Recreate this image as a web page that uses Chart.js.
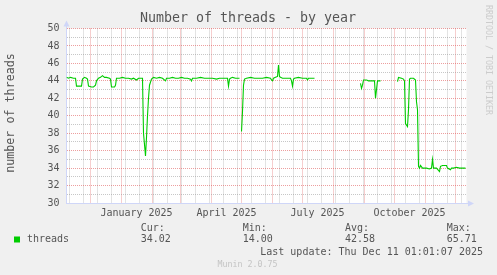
<!DOCTYPE html>
<html>
<head>
<meta charset="utf-8">
<script src="https://cdn.jsdelivr.net/npm/chart.js@4.4.1/dist/chart.umd.min.js"></script>
<style>
  html, body { margin: 0; padding: 0; background: #f0f0f0; }
  #wrap { width: 497px; height: 275px; }
</style>
</head>
<body>
<div id="wrap"><canvas id="threads-year" width="497" height="275"></canvas></div>
<script>
// munin threads plugin, "by year" view. x = days since startDate, null = no data
const startDate = '2024-11-07';
const spanDays = 400;

const days = [
  0, 2, 4, 7, 9, 10, 15, 16, 18, 20, 21, 22, 25, 27, 29, 30, 32, 34, 36, 38,
  40, 43, 44, 45, 48, 49, 50, 53, 56, 59, 62, 65, 67, 70, 72, 75, 76, 77, 79, 80,
  81, 82, 83, 85, 87, 90, 93, 96, 99, 100, 103, 106, 109, 112, 115, 118, 121, 124, 125, 126,
  130, 134, 138, 142, 146, 150, 153, 156, 159, 161, 162, 163, 164, 166, 169, 173, 174,
  175, 176, 177, 178, 180, 184, 188, 192, 196, 200, 204, 205, 206, 207, 209, 211, 212, 213,
  214, 216, 220, 224, 225, 226, 227, 228, 232, 236, 240, 241, 242, 245, 248, 249,
  294, 295, 296, 297, 300, 302, 305, 308, 309, 311, 313, 314, 315,
  331, 332, 335, 337, 338, 339, 341, 342, 343, 344, 347, 349, 350, 351, 352, 353, 354, 356,
  360, 363, 365, 366, 367, 370, 373, 374, 376, 380, 381, 384, 385, 387, 390, 393, 396, 399
];
const threads = [
  44.4, 44.3, 44.4, 44.3, 44.3, 43.4, 43.4, 44.2, 44.4, 44.3, 44.2, 43.4, 43.3, 43.3, 43.5, 44.0, 44.3, 44.4, 44.6, 44.4,
  44.4, 44.3, 44.2, 43.3, 43.3, 43.5, 44.3, 44.3, 44.4, 44.3, 44.3, 44.2, 44.3, 44.1, 44.3, 44.3, 44.3, 38.0, 35.4, 37.5,
  40.0, 42.0, 43.5, 44.2, 44.4, 44.3, 44.4, 44.3, 44.0, 44.3, 44.3, 44.4, 44.3, 44.3, 44.4, 44.3, 44.3, 44.2, 44.0, 44.3,
  44.3, 44.4, 44.3, 44.3, 44.3, 44.2, 44.3, 44.3, 44.3, 44.3, 43.4, 44.2, 44.3, 44.4, 44.3, 44.3, null,
  38.2, 40.5, 43.5, 44.2, 44.3, 44.4, 44.3, 44.3, 44.3, 44.4, 44.3, 44.1, 44.0, 44.3, 44.4, 44.5, 45.8, 44.5,
  44.4, 44.3, 44.3, 44.3, 44.0, 43.4, 44.2, 44.3, 44.4, 44.3, 44.3, 44.1, 44.3, 44.3, 44.3, null,
  43.7, 43.15, 43.5, 44.1, 44.1, 44.0, 44.0, 44.0, 42.0, 44.0, 44.0, 44.0, null,
  43.9, 44.4, 44.3, 44.2, 44.0, 39.1, 38.75, 40.7, 44.2, 44.3, 44.3, 44.1, 41.6, 40.7, 34.2, 34.0, 34.3, 34.0,
  34.0, 33.9, 34.0, 35.0, 34.0, 34.0, 33.6, 34.2, 34.3, 34.3, 34.0, 33.8, 34.0, 34.0, 34.1, 34.0, 34.0, 34.0
];

const labelMonths = ['2025-01', '2025-04', '2025-07', '2025-10'];
const xLabels = ['January 2025', 'April 2025', 'July 2025', 'October 2025'];

const statNames = ['Cur:', 'Min:', 'Avg:', 'Max:'];
const statValues = ['34.02', '14.00', '42.58', '65.71'];

const MONO = '"DejaVu Sans Mono", monospace';
const TXT = '#555555';
const MAJOR = 'rgba(222, 79, 79, 0.55)';
const MINOR = 'rgba(143, 143, 143, 0.5)';
const AXIS = '#cfd6f8';
const GREEN = '#00cc00';

const DAY = 86400000;
const t0 = Date.parse(startDate + 'T00:00:00Z');
const dayOf = s => (Date.parse(s + 'T00:00:00Z') - t0) / DAY;

function buildXTicks() {
  let out = [];
  let tEnd = t0 + spanDays * DAY;
  // minor: every second sunday
  let t = t0 + 3 * DAY;
  while (new Date(t).getUTCDay() !== 0) t += DAY;
  for (; t <= tEnd; t += 14 * DAY) out.push({ value: (t - t0) / DAY, kind: 'minor' });
  // major: first of month
  let y = 2024, m = 11;
  while (Date.UTC(y, m, 1) <= tEnd) {
    out.push({ value: (Date.UTC(y, m, 1) - t0) / DAY, kind: 'major' });
    m++;
    if (m > 11) { m = 0; y++; }
  }
  // labels sit half a month after the month start
  labelMonths.forEach((s, i) => out.push({ value: dayOf(s + '-01') + 15, kind: 'label', text: xLabels[i] }));
  return out;
}

const points = days.map((d, i) => ({ x: d, y: threads[i] }));

const muninFrame = {
  id: 'muninFrame',
  beforeDraw(chart) {
    const { ctx, chartArea: a } = chart;
    ctx.save();
    ctx.fillStyle = '#ffffff';
    ctx.fillRect(a.left, a.top, a.right - a.left, a.bottom - a.top);
    ctx.restore();
  },
  afterDraw(chart) {
    const { ctx, chartArea: a } = chart;
    ctx.save();
    // axis arrows
    ctx.fillStyle = AXIS;
    ctx.strokeStyle = AXIS;
    ctx.lineWidth = 1;
    ctx.beginPath();
    ctx.moveTo(66.5, a.top);
    ctx.lineTo(66.5, 24);
    ctx.stroke();
    ctx.beginPath();
    ctx.moveTo(63.5, 26.5);
    ctx.lineTo(69.5, 26.5);
    ctx.lineTo(66.5, 20.5);
    ctx.closePath();
    ctx.fill();
    ctx.beginPath();
    ctx.moveTo(a.right, 203.5);
    ctx.lineTo(470, 203.5);
    ctx.stroke();
    ctx.beginPath();
    ctx.moveTo(468, 200.5);
    ctx.lineTo(468, 206.5);
    ctx.lineTo(474, 203.5);
    ctx.closePath();
    ctx.fill();

    ctx.fillStyle = TXT;
    ctx.textBaseline = 'middle';
    // title
    ctx.font = '13.3px ' + MONO;
    ctx.textAlign = 'center';
    ctx.fillText('Number of threads - by year', 248, 19);
    // vertical axis title
    ctx.save();
    ctx.translate(11, 113);
    ctx.rotate(-Math.PI / 2);
    ctx.font = '11.7px ' + MONO;
    ctx.fillText('number of threads', 0, 0);
    ctx.restore();
    // watermark
    ctx.save();
    ctx.translate(488, 5);
    ctx.rotate(Math.PI / 2);
    ctx.font = '8.3px ' + MONO;
    ctx.fillStyle = '#cccccc';
    ctx.textAlign = 'left';
    ctx.fillText('RRDTOOL / TOBI OETIKER', 0, 0);
    ctx.restore();

    // legend
    ctx.font = '10px ' + MONO;
    ctx.textAlign = 'left';
    ctx.fillStyle = GREEN;
    ctx.fillRect(14, 236.5, 6, 6);
    ctx.fillStyle = TXT;
    ctx.fillText('threads', 27, 239.5);
    const statX = [140.7, 242.7, 345, 446.7];
    statNames.forEach((n, i) => {
      ctx.fillText(n, statX[i], 228);
      ctx.fillText(statValues[i], statX[i], 239.5);
    });
    ctx.textAlign = 'right';
    ctx.fillText('Last update: Thu Dec 11 01:01:07 2025', 483, 252);
    ctx.textAlign = 'center';
    ctx.font = '8.3px ' + MONO;
    ctx.fillStyle = '#c4c4c4';
    ctx.fillText('Munin 2.0.75', 247.5, 265);
    ctx.restore();
  }
};

new Chart(document.getElementById('threads-year'), {
  type: 'line',
  data: {
    datasets: [{
      label: 'threads',
      data: points,
      borderColor: GREEN,
      borderWidth: 1.1,
      pointRadius: 0,
      tension: 0,
      spanGaps: false,
      fill: false
    }]
  },
  options: {
    responsive: false,
    animation: false,
    devicePixelRatio: 1,
    layout: { padding: { left: 0, right: 30.5, top: 28.5, bottom: 0 } },
    plugins: { legend: { display: false }, tooltip: { enabled: false } },
    scales: {
      x: {
        type: 'linear',
        min: 0,
        max: spanDays,
        afterBuildTicks: s => { s.ticks = buildXTicks(); },
        afterFit: s => { s.height = 72; },
        grid: {
          color: c => c.tick && c.tick.kind === 'major' ? MAJOR : (c.tick && c.tick.kind === 'minor' ? MINOR : 'rgba(0,0,0,0)'),
          drawTicks: false,
          lineWidth: 1
        },
        border: { color: AXIS, dash: [1, 1] },
        ticks: {
          autoSkip: false,
          maxRotation: 0,
          padding: 4,
          color: TXT,
          font: { family: MONO, size: 10 },
          callback: (v, i, ticks) => ticks[i].kind === 'label' ? ticks[i].text : ''
        }
      },
      y: {
        min: 30,
        max: 50,
        afterFit: s => { s.width = 66.5; },
        grid: {
          color: c => c.tick && c.tick.value % 2 === 0 ? MAJOR : MINOR,
          drawTicks: false,
          lineWidth: 1
        },
        border: { color: AXIS, dash: [1, 1] },
        ticks: {
          stepSize: 1,
          autoSkip: false,
          padding: 7,
          color: TXT,
          font: { family: MONO, size: 10 },
          callback: v => v % 2 === 0 ? String(v) : ''
        }
      }
    }
  },
  plugins: [muninFrame]
});
</script>
</body>
</html>
